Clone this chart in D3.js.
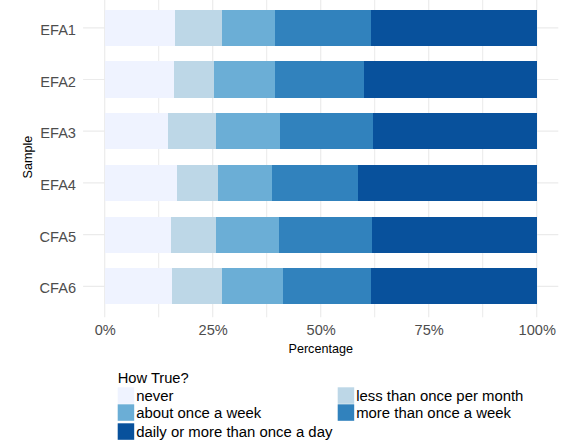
<!DOCTYPE html>
<html>
<head>
<meta charset="utf-8">
<script src="https://cdn.jsdelivr.net/npm/d3@7"></script>
<style>
  html, body { margin: 0; padding: 0; background: #fff; }
  svg { display: block; font-family: "Liberation Sans", Arial, sans-serif; }
</style>
</head>
<body>
<svg id="chart" width="572" height="444"></svg>
<script>
// ---- data ----
const categories = ["EFA1", "EFA2", "EFA3", "EFA4", "CFA5", "CFA6"];
const seriesNames = ["never", "less than once per month", "about once a week", "more than once a week", "daily or more than once a day"];
const never       = [16.3, 16.0, 14.7, 16.7, 15.4, 15.6];
const lessMonth   = [10.9,  9.3, 11.1,  9.5, 10.4, 11.6];
const weekly      = [12.3, 14.1, 14.8, 12.5, 14.6, 14.1];
const moreWeekly  = [22.2, 20.6, 21.5, 19.9, 21.5, 20.4];
const daily       = [38.4, 40.0, 37.9, 41.4, 38.1, 38.4];
const xTicks = [0, 25, 50, 75, 100];
const xMinorTicks = [12.5, 37.5, 62.5, 87.5];
const colors = ["#eff3ff", "#bdd7e7", "#6baed6", "#3182bd", "#08519c"];

const seriesValues = [never, lessMonth, weekly, moreWeekly, daily];
const rows = categories.map((c, i) => {
  const r = { cat: c };
  seriesNames.forEach((s, j) => r[s] = seriesValues[j][i]);
  return r;
});

// ---- layout ----
const svg = d3.select("#chart");
const x = d3.scaleLinear().domain([0, 1]).range([104.7, 536.7]);
const xPanel = [x(-0.05), x(1.05)];
const y = d3.scalePoint().domain(categories).range([27.8, 286.3]);
const step = y.step();
const panelTop = y(categories[0]) - 0.6 * step;
const panelBottom = y(categories[categories.length - 1]) + 0.6 * step;
const barH = 0.7 * step;

// gridlines
const grid = svg.append("g");
xMinorTicks.forEach(t => {
  grid.append("line").attr("x1", x(t / 100)).attr("x2", x(t / 100))
    .attr("y1", panelTop).attr("y2", panelBottom)
    .attr("stroke", "#ebebeb").attr("stroke-width", 1);
});
xTicks.forEach(t => {
  grid.append("line").attr("x1", x(t / 100)).attr("x2", x(t / 100))
    .attr("y1", panelTop).attr("y2", panelBottom)
    .attr("stroke", "#ebebeb").attr("stroke-width", 1.2);
});
categories.forEach(c => {
  grid.append("line").attr("x1", xPanel[0]).attr("x2", xPanel[1])
    .attr("y1", y(c)).attr("y2", y(c))
    .attr("stroke", "#ebebeb").attr("stroke-width", 1.2);
});

// stacked bars
const stack = d3.stack().keys(seriesNames).offset(d3.stackOffsetExpand);
const layers = stack(rows);
svg.append("g").selectAll("g").data(layers).join("g")
  .attr("fill", (d, i) => colors[i])
  .selectAll("rect").data(d => d).join("rect")
  .attr("x", d => x(d[0]))
  .attr("width", d => x(d[1]) - x(d[0]))
  .attr("y", d => y(d.data.cat) - barH / 2)
  .attr("height", barH)
  .attr("shape-rendering", "crispEdges");

// axes text
const xAxis = d3.axisBottom(x).tickValues(xTicks.map(t => t / 100))
  .tickFormat(d3.format(".0%")).tickSize(0).tickPadding(0);
const gx = svg.append("g").attr("transform", `translate(0,${panelBottom})`).call(xAxis);
gx.select(".domain").remove();
gx.selectAll("text").attr("y", 18).attr("dy", 0)
  .attr("font-size", 14.6).attr("fill", "#4d4d4d")
  .attr("font-family", "Liberation Sans, Arial, sans-serif");

const yAxis = d3.axisLeft(y).tickSize(0).tickPadding(0);
const gy = svg.append("g").attr("transform", "translate(76,0)").call(yAxis);
gy.select(".domain").remove();
gy.selectAll("text").attr("x", 0).attr("dy", "0.45em")
  .attr("font-size", 14.6).attr("fill", "#4d4d4d")
  .attr("font-family", "Liberation Sans, Arial, sans-serif");

svg.append("text").attr("x", (xPanel[0] + xPanel[1]) / 2).attr("y", 352.5)
  .attr("text-anchor", "middle").attr("font-size", 12.6).attr("fill", "#000")
  .text("Percentage");
svg.append("text")
  .attr("transform", `translate(31.5,${(panelTop + panelBottom) / 2}) rotate(-90)`)
  .attr("text-anchor", "middle").attr("font-size", 12.6).attr("fill", "#000")
  .text("Sample");

// legend
const lg = svg.append("g");
lg.append("text").attr("x", 117.7).attr("y", 383).attr("font-size", 14.7)
  .attr("fill", "#000").text("How True?");
const legendPos = [
  { kx: 117.7, ky: 387.3 }, { kx: 337.7, ky: 387.3 },
  { kx: 117.7, ky: 404.3 }, { kx: 337.7, ky: 404.3 },
  { kx: 117.7, ky: 423.3 }
];
seriesNames.forEach((s, i) => {
  const p = legendPos[i];
  lg.append("rect").attr("x", p.kx).attr("y", p.ky).attr("width", 16.5).attr("height", 16.5)
    .attr("fill", colors[i]);
  lg.append("text").attr("x", p.kx + 18.5).attr("y", p.ky + 13.3)
    .attr("font-size", 14.9).attr("fill", "#000").text(s);
});
</script>
</body>
</html>
